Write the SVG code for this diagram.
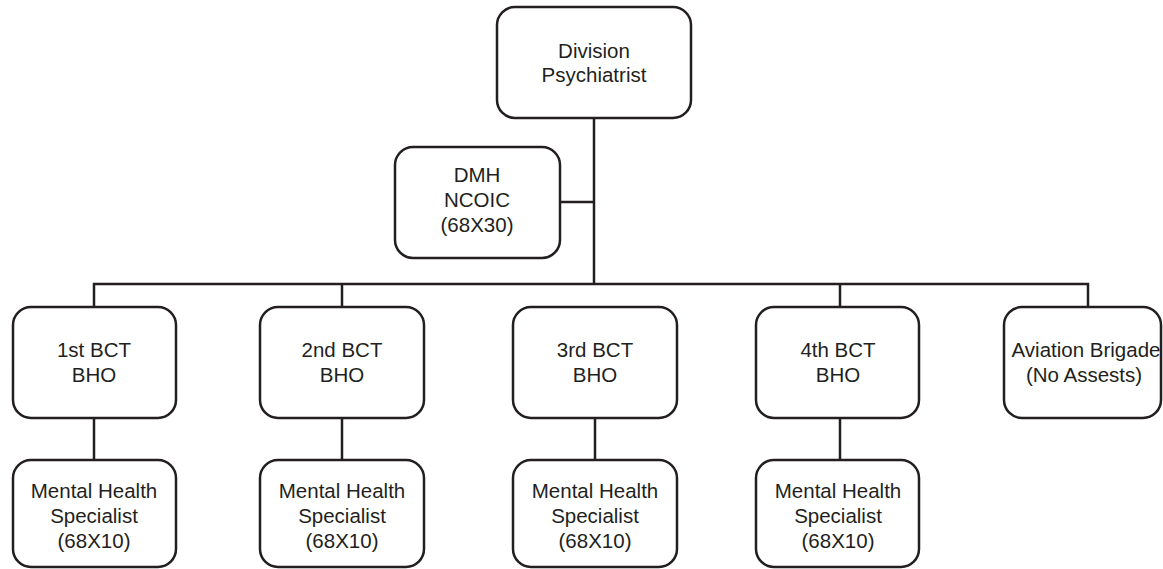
<svg xmlns="http://www.w3.org/2000/svg" width="1163" height="569" viewBox="0 0 1163 569">
<style>
.box{fill:#fff;stroke:#231f20;stroke-width:2.5}
.ln{fill:none;stroke:#231f20;stroke-width:2.5}
text{font-family:"Liberation Sans",Arial,sans-serif;font-size:20.5px;fill:#231f20;text-anchor:middle}
</style>
<rect width="1163" height="569" fill="#fff"/>
<g id="connectors">
<path class="ln" d="M594 118V284M560 202H594M94 307V284H1088V307M342 284V307M840 284V307M94 418V460M342 418V460M595 418V460M840 418V460"/>
</g>
<g id="n-div"><rect class="box" x="497" y="7" width="194" height="111" rx="18"/><text x="594" y="58">Division</text><text x="594" y="82">Psychiatrist</text></g>
<g id="n-dmh"><rect class="box" x="395" y="147" width="165" height="111" rx="18"/><text x="477" y="182">DMH</text><text x="477" y="207">NCOIC</text><text x="477" y="232">(68X30)</text></g>
<g id="n-b1"><rect class="box" x="13" y="307" width="163" height="111" rx="18"/><text x="94" y="357">1st BCT</text><text x="94" y="382">BHO</text></g>
<g id="n-b2"><rect class="box" x="260" y="307" width="164" height="111" rx="18"/><text x="342" y="357">2nd BCT</text><text x="342" y="382">BHO</text></g>
<g id="n-b3"><rect class="box" x="513" y="307" width="164" height="111" rx="18"/><text x="595" y="357">3rd BCT</text><text x="595" y="382">BHO</text></g>
<g id="n-b4"><rect class="box" x="756" y="307" width="163" height="111" rx="18"/><text x="838" y="357">4th BCT</text><text x="838" y="382">BHO</text></g>
<g id="n-av"><rect class="box" x="1004" y="307" width="157" height="111" rx="18"/><text x="1086" y="357">Aviation Brigade</text><text x="1084" y="382">(No Assests)</text></g>
<g id="n-m1"><rect class="box" x="13" y="460" width="163" height="107" rx="18"/><text x="94" y="498">Mental Health</text><text x="94" y="523">Specialist</text><text x="94" y="548">(68X10)</text></g>
<g id="n-m2"><rect class="box" x="260" y="460" width="164" height="107" rx="18"/><text x="342" y="498">Mental Health</text><text x="342" y="523">Specialist</text><text x="342" y="548">(68X10)</text></g>
<g id="n-m3"><rect class="box" x="513" y="460" width="164" height="107" rx="18"/><text x="595" y="498">Mental Health</text><text x="595" y="523">Specialist</text><text x="595" y="548">(68X10)</text></g>
<g id="n-m4"><rect class="box" x="756" y="460" width="163" height="107" rx="18"/><text x="838" y="498">Mental Health</text><text x="838" y="523">Specialist</text><text x="838" y="548">(68X10)</text></g>
</svg>
